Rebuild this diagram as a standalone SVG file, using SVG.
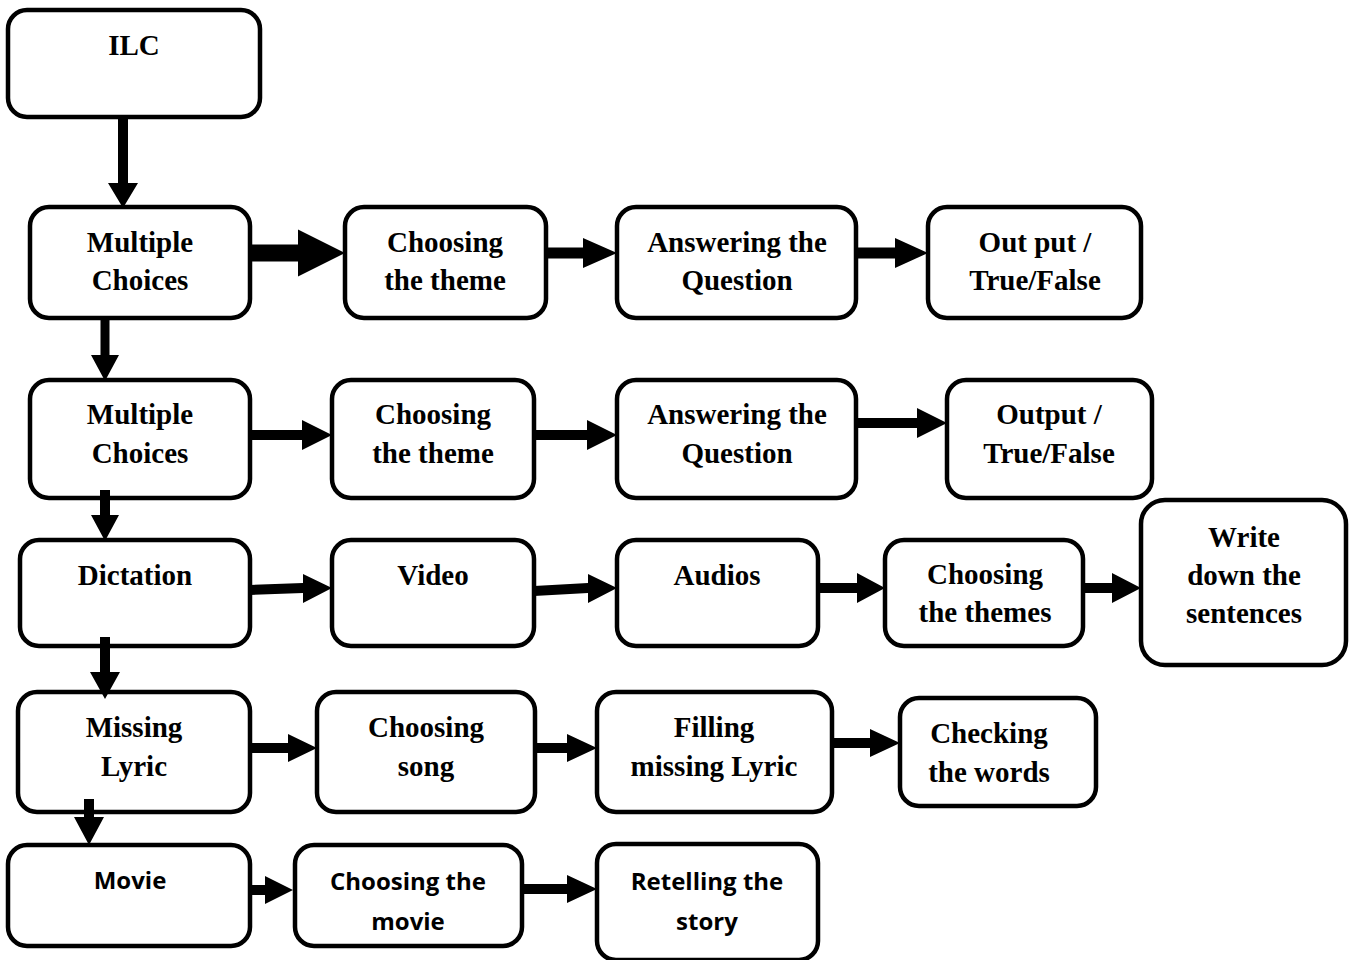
<svg xmlns="http://www.w3.org/2000/svg" width="1354" height="960" viewBox="0 0 1354 960">
<style>
.box{fill:#fff;stroke:#000;stroke-width:4.5}
.t{font-family:"Liberation Serif","Times New Roman",serif;font-weight:bold;font-size:29px;fill:#000;text-anchor:middle}
.c{font-family:"Open Sans","Liberation Sans",sans-serif;font-weight:bold;font-size:24px;fill:#000;text-anchor:middle}
.a{fill:#000;stroke:none}
</style>
<rect width="1354" height="960" fill="#fff"/>
<g id="ilc"><rect class="box" x="8" y="10" width="252" height="107" rx="19"/><text class="t" x="134" y="55">ILC</text></g>
<g id="mc1"><rect class="box" x="30" y="207" width="220" height="111" rx="19"/><text class="t" x="140" y="252">Multiple</text><text class="t" x="140" y="290">Choices</text></g>
<g id="ch1"><rect class="box" x="345" y="207" width="201" height="111" rx="19"/><text class="t" x="445" y="252">Choosing</text><text class="t" x="445" y="290">the theme</text></g>
<g id="ans1"><rect class="box" x="617" y="207" width="239" height="111" rx="19"/><text class="t" x="737" y="252">Answering the</text><text class="t" x="737" y="290">Question</text></g>
<g id="out1"><rect class="box" x="928" y="207" width="213" height="111" rx="19"/><text class="t" x="1035" y="252">Out put /</text><text class="t" x="1035" y="290">True/False</text></g>
<g id="mc2"><rect class="box" x="30" y="380" width="220" height="118" rx="19"/><text class="t" x="140" y="424">Multiple</text><text class="t" x="140" y="463">Choices</text></g>
<g id="ch2"><rect class="box" x="332" y="380" width="202" height="118" rx="19"/><text class="t" x="433" y="424">Choosing</text><text class="t" x="433" y="463">the theme</text></g>
<g id="ans2"><rect class="box" x="617" y="380" width="239" height="118" rx="19"/><text class="t" x="737" y="424">Answering the</text><text class="t" x="737" y="463">Question</text></g>
<g id="out2"><rect class="box" x="947" y="380" width="205" height="118" rx="19"/><text class="t" x="1049" y="424">Output /</text><text class="t" x="1049" y="463">True/False</text></g>
<g id="dict"><rect class="box" x="20" y="540" width="230" height="106" rx="19"/><text class="t" x="135" y="585">Dictation</text></g>
<g id="video"><rect class="box" x="332" y="540" width="202" height="106" rx="19"/><text class="t" x="433" y="585">Video</text></g>
<g id="audios"><rect class="box" x="617" y="540" width="201" height="106" rx="19"/><text class="t" x="717" y="585">Audios</text></g>
<g id="chth"><rect class="box" x="885" y="540" width="198" height="106" rx="19"/><text class="t" x="985" y="584">Choosing</text><text class="t" x="985" y="622">the themes</text></g>
<g id="write"><rect class="box" x="1141" y="500" width="205" height="165" rx="24"/><text class="t" x="1244" y="547">Write</text><text class="t" x="1244" y="585">down the</text><text class="t" x="1244" y="623">sentences</text></g>
<g id="missing"><rect class="box" x="18" y="692" width="232" height="120" rx="19"/><text class="t" x="134" y="737">Missing</text><text class="t" x="134" y="776">Lyric</text></g>
<g id="chsong"><rect class="box" x="317" y="692" width="218" height="120" rx="19"/><text class="t" x="426" y="737">Choosing</text><text class="t" x="426" y="776">song</text></g>
<g id="filling"><rect class="box" x="597" y="692" width="235" height="120" rx="19"/><text class="t" x="714" y="737">Filling</text><text class="t" x="714" y="776">missing Lyric</text></g>
<g id="checking"><rect class="box" x="900" y="698" width="196" height="108" rx="19"/><text class="t" x="989" y="743">Checking</text><text class="t" x="989" y="782">the words</text></g>
<g id="movie"><rect class="box" x="8" y="845" width="242" height="101" rx="19"/><text class="c" x="130" y="889">Movie</text></g>
<g id="chmovie"><rect class="box" x="295" y="845" width="227" height="101" rx="19"/><text class="c" x="408" y="890">Choosing the</text><text class="c" x="408" y="930">movie</text></g>
<g id="retell"><rect class="box" x="597" y="844" width="221" height="116" rx="19"/><text class="c" x="707" y="890">Retelling the</text><text class="c" x="707" y="930">story</text></g>
<g id="connectors">
<polygon class="a" points="118,117 128,117 128,183 138,183 123,208 108,183 118,183"/>
<polygon class="a" points="100.5,318 109.5,318 109.5,355 119,355 105,381 91,355 100.5,355"/>
<polygon class="a" points="100,490 110,490 110,515 119,515 105,541 91,515 100,515"/>
<polygon class="a" points="100,637 110,637 110,672 120,672 105,699 90,672 100,672"/>
<polygon class="a" points="84,799 94,799 94,817 104,817 89,845 74,817 84,817"/>
<polygon class="a" points="250,244.5 298,244.5 298,229.5 345,253 298,276.5 298,261.5 250,261.5"/>
<polygon class="a" points="547,247.5 583,247.5 583,238 617,253 583,268 583,258.5 547,258.5"/>
<polygon class="a" points="856,247.5 895,247.5 895,238 928,253 895,268 895,258.5 856,258.5"/>
<polygon class="a" points="250,430 302,430 302,420 332,435 302,450 302,440 250,440"/>
<polygon class="a" points="534,430 587,430 587,420 617,435 587,450 587,440 534,440"/>
<polygon class="a" points="855,418 917,418 917,408 947,423 917,438 917,428 855,428"/>
<polygon class="a" points="250,585 303,583 303,574 332,588 303,603 303,593 250,595"/>
<polygon class="a" points="534,586 588,583 588,574 617,588 588,603 588,593 534,596"/>
<polygon class="a" points="818,583 857,583 857,573 885,588 857,603 857,593 818,593"/>
<polygon class="a" points="1083,583 1112,583 1112,573 1141,588 1112,603 1112,593 1083,593"/>
<polygon class="a" points="250,743 288,743 288,734 317,748 288,762 288,753 250,753"/>
<polygon class="a" points="535,743 567,743 567,734 597,748 567,762 567,753 535,753"/>
<polygon class="a" points="832,738 870,738 870,729 900,743 870,757 870,748 832,748"/>
<polygon class="a" points="250,885 265,885 265,876 293,890 265,904 265,895 250,895"/>
<polygon class="a" points="522,884 567,884 567,875 597,889 567,903 567,894 522,894"/>
</g>
</svg>
